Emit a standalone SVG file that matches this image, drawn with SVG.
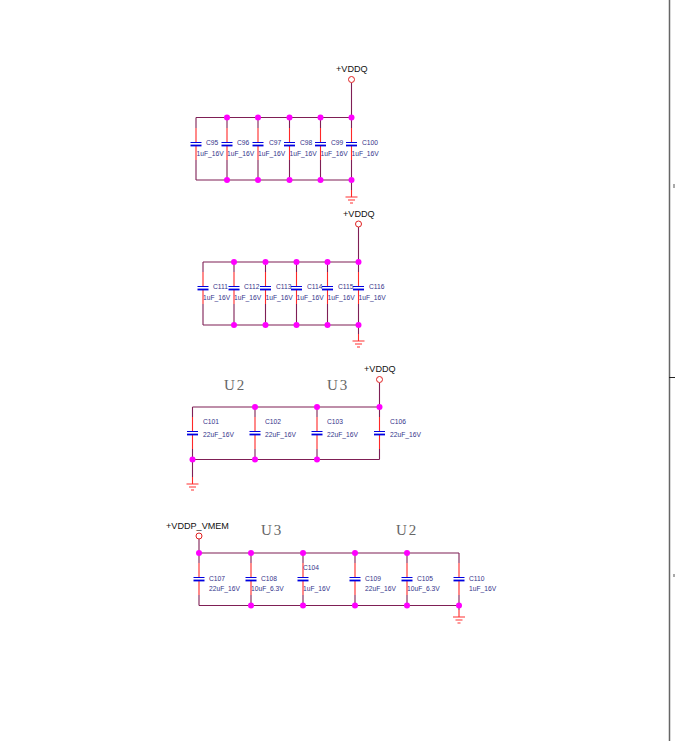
<svg xmlns="http://www.w3.org/2000/svg" width="675" height="741" viewBox="0 0 675 741">
<style>
text{font-family:"Liberation Sans",Arial,sans-serif}
.w{stroke:#7f1f55;stroke-width:1.1;fill:none}
.r{stroke:#ff2828;stroke-width:1.1;fill:none}
.t{stroke:#0000e0;stroke-width:1;fill:none}
.b{stroke:#0000e0;stroke-width:1.8;fill:none}
.pin{stroke:#e02020;stroke-width:1;fill:#fff}
.g{stroke:#ff3030;stroke-width:1.2;fill:none}
.d{fill:#ff00ff}
.l{font-size:6.7px;fill:#33338a}
.n{font-size:9.1px;fill:#111}
.u{font-family:"Liberation Serif",serif;font-size:15px;letter-spacing:2px;fill:#666}
</style>
<defs>
<g id="cap"><path class="r" d="M0-16V-2M0 2V16"/><path class="t" d="M-5.500-1.500H5.500"/><path class="b" d="M-5.500 1.500H5.500"/></g>
<g id="gnd"><path class="r" d="M0-7V0"/><path class="g" d="M-6 0H6M-3.500 3H3.500M-1.500 6H1.500"/></g>
<circle id="dot" class="d" r="3"/>
</defs>
<g id="connectors">
<path class="w" d="M351.500 83V128M351.500 160V190M196 117.500H351.500M196 180H351.500M196 117.500V128M196 160V180M227 117.500V128M227 160V180M258 117.500V128M258 160V180M289.500 117.500V128M289.500 160V180M320.500 117.500V128M320.500 160V180"/>
<path class="w" d="M358.500 227V272M358.500 304V334M203 262H358.500M203 325H358.500M203 262V272M203 304V325M234 262V272M234 304V325M265.500 262V272M265.500 304V325M296.500 262V272M296.500 304V325M327.500 262V272M327.500 304V325"/>
<path class="w" d="M379.500 383V417M379.500 449V459.500M192.500 407H379.500M192.500 459.500H379.500M192.500 407V417M192.500 449V477M255 407V417M255 449V459.500M317 407V417M317 449V459.500"/>
<path class="w" d="M199 539V563M199 595V605.500M199 553H459M199 605.500H459M251 553V563M251 595V605.500M303 553V563M303 595V605.500M355 553V563M355 595V605.500M407 553V563M407 595V605.500M459 553V563M459 595V610"/>
<path stroke="#666" stroke-width="1.500" fill="none" d="M669.500 0V741"/>
<path stroke="#222" stroke-width="1" fill="none" d="M669 377.500H675"/>
<path stroke="#555" stroke-width="1" fill="none" d="M674 184V188M674 574V577"/>
</g>
<g id="C95"><use href="#cap" x="196" y="144"/><text class="l" x="206" y="145">C95</text><text class="l" x="196.500" y="156">1uF_16V</text></g>
<g id="C96"><use href="#cap" x="227" y="144"/><text class="l" x="237" y="145">C96</text><text class="l" x="227" y="156">1uF_16V</text></g>
<g id="C97"><use href="#cap" x="258" y="144"/><text class="l" x="269" y="145">C97</text><text class="l" x="258" y="156">1uF_16V</text></g>
<g id="C98"><use href="#cap" x="289.500" y="144"/><text class="l" x="300" y="145">C98</text><text class="l" x="289.500" y="156">1uF_16V</text></g>
<g id="C99"><use href="#cap" x="320.500" y="144"/><text class="l" x="331" y="145">C99</text><text class="l" x="320.500" y="156">1uF_16V</text></g>
<g id="C100"><use href="#cap" x="351.500" y="144"/><text class="l" x="362" y="145">C100</text><text class="l" x="351.500" y="156">1uF_16V</text></g>
<g id="C111"><use href="#cap" x="203" y="288"/><text class="l" x="213" y="289">C111</text><text class="l" x="203" y="300">1uF_16V</text></g>
<g id="C112"><use href="#cap" x="234" y="288"/><text class="l" x="244" y="289">C112</text><text class="l" x="234" y="300">1uF_16V</text></g>
<g id="C113"><use href="#cap" x="265.500" y="288"/><text class="l" x="276" y="289">C113</text><text class="l" x="265.500" y="300">1uF_16V</text></g>
<g id="C114"><use href="#cap" x="296.500" y="288"/><text class="l" x="307" y="289">C114</text><text class="l" x="296.500" y="300">1uF_16V</text></g>
<g id="C115"><use href="#cap" x="327.500" y="288"/><text class="l" x="338" y="289">C115</text><text class="l" x="327.500" y="300">1uF_16V</text></g>
<g id="C116"><use href="#cap" x="358.500" y="288"/><text class="l" x="369" y="289">C116</text><text class="l" x="358.500" y="300">1uF_16V</text></g>
<g id="C101"><use href="#cap" x="192.500" y="433"/><text class="l" x="203" y="424">C101</text><text class="l" x="203" y="437">22uF_16V</text></g>
<g id="C102"><use href="#cap" x="255" y="433"/><text class="l" x="265" y="424">C102</text><text class="l" x="265" y="437">22uF_16V</text></g>
<g id="C103"><use href="#cap" x="317" y="433"/><text class="l" x="327" y="424">C103</text><text class="l" x="327" y="437">22uF_16V</text></g>
<g id="C106"><use href="#cap" x="379.500" y="433"/><text class="l" x="390" y="424">C106</text><text class="l" x="390" y="437">22uF_16V</text></g>
<g id="C107"><use href="#cap" x="199" y="579"/><text class="l" x="209" y="581">C107</text><text class="l" x="209" y="591">22uF_16V</text></g>
<g id="C108"><use href="#cap" x="251" y="579"/><text class="l" x="261" y="581">C108</text><text class="l" x="251" y="591">10uF_6.3V</text></g>
<g id="C104"><use href="#cap" x="303" y="579"/><text class="l" x="303" y="570">C104</text><text class="l" x="303" y="591">1uF_16V</text></g>
<g id="C109"><use href="#cap" x="355" y="579"/><text class="l" x="365" y="581">C109</text><text class="l" x="365" y="591">22uF_16V</text></g>
<g id="C105"><use href="#cap" x="407" y="579"/><text class="l" x="417" y="581">C105</text><text class="l" x="407" y="591">10uF_6.3V</text></g>
<g id="C110"><use href="#cap" x="459" y="579"/><text class="l" x="469" y="581">C110</text><text class="l" x="469" y="591">1uF_16V</text></g>
<g id="power1"><circle class="pin" cx="351.500" cy="79.500" r="3"/><text class="n" x="336" y="71.500">+VDDQ</text></g>
<g id="power2"><circle class="pin" cx="358.500" cy="224" r="3"/><text class="n" x="343" y="217">+VDDQ</text></g>
<g id="power3"><circle class="pin" cx="379.500" cy="379.500" r="3"/><text class="n" x="364" y="372">+VDDQ</text></g>
<g id="power4"><circle class="pin" cx="199" cy="536" r="3"/><text class="n" x="166" y="529">+VDDP_VMEM</text></g>
<g id="gnd1"><use href="#gnd" x="351.500" y="197"/></g>
<g id="gnd2"><use href="#gnd" x="358.500" y="341"/></g>
<g id="gnd3"><use href="#gnd" x="192.500" y="484"/></g>
<g id="gnd4"><use href="#gnd" x="459" y="617"/></g>
<g id="junctions">
<use href="#dot" x="227" y="117.500"/><use href="#dot" x="258" y="117.500"/><use href="#dot" x="289.500" y="117.500"/><use href="#dot" x="320.500" y="117.500"/><use href="#dot" x="351.500" y="117.500"/>
<use href="#dot" x="227" y="180"/><use href="#dot" x="258" y="180"/><use href="#dot" x="289.500" y="180"/><use href="#dot" x="320.500" y="180"/><use href="#dot" x="351.500" y="180"/>
<use href="#dot" x="234" y="262"/><use href="#dot" x="265.500" y="262"/><use href="#dot" x="296.500" y="262"/><use href="#dot" x="327.500" y="262"/><use href="#dot" x="358.500" y="262"/>
<use href="#dot" x="234" y="325"/><use href="#dot" x="265.500" y="325"/><use href="#dot" x="296.500" y="325"/><use href="#dot" x="327.500" y="325"/><use href="#dot" x="358.500" y="325"/>
<use href="#dot" x="255" y="407"/><use href="#dot" x="317" y="407"/><use href="#dot" x="379.500" y="407"/>
<use href="#dot" x="192.500" y="459.500"/><use href="#dot" x="255" y="459.500"/><use href="#dot" x="317" y="459.500"/>
<use href="#dot" x="199" y="553"/><use href="#dot" x="251" y="553"/><use href="#dot" x="303" y="553"/><use href="#dot" x="355" y="553"/><use href="#dot" x="407" y="553"/>
<use href="#dot" x="251" y="605.500"/><use href="#dot" x="303" y="605.500"/><use href="#dot" x="355" y="605.500"/><use href="#dot" x="407" y="605.500"/><use href="#dot" x="459" y="605.500"/>
</g>
<g id="labels"><text class="u" x="224" y="390">U2</text><text class="u" x="327" y="390">U3</text><text class="u" x="261" y="535">U3</text><text class="u" x="396" y="535">U2</text></g>
</svg>
